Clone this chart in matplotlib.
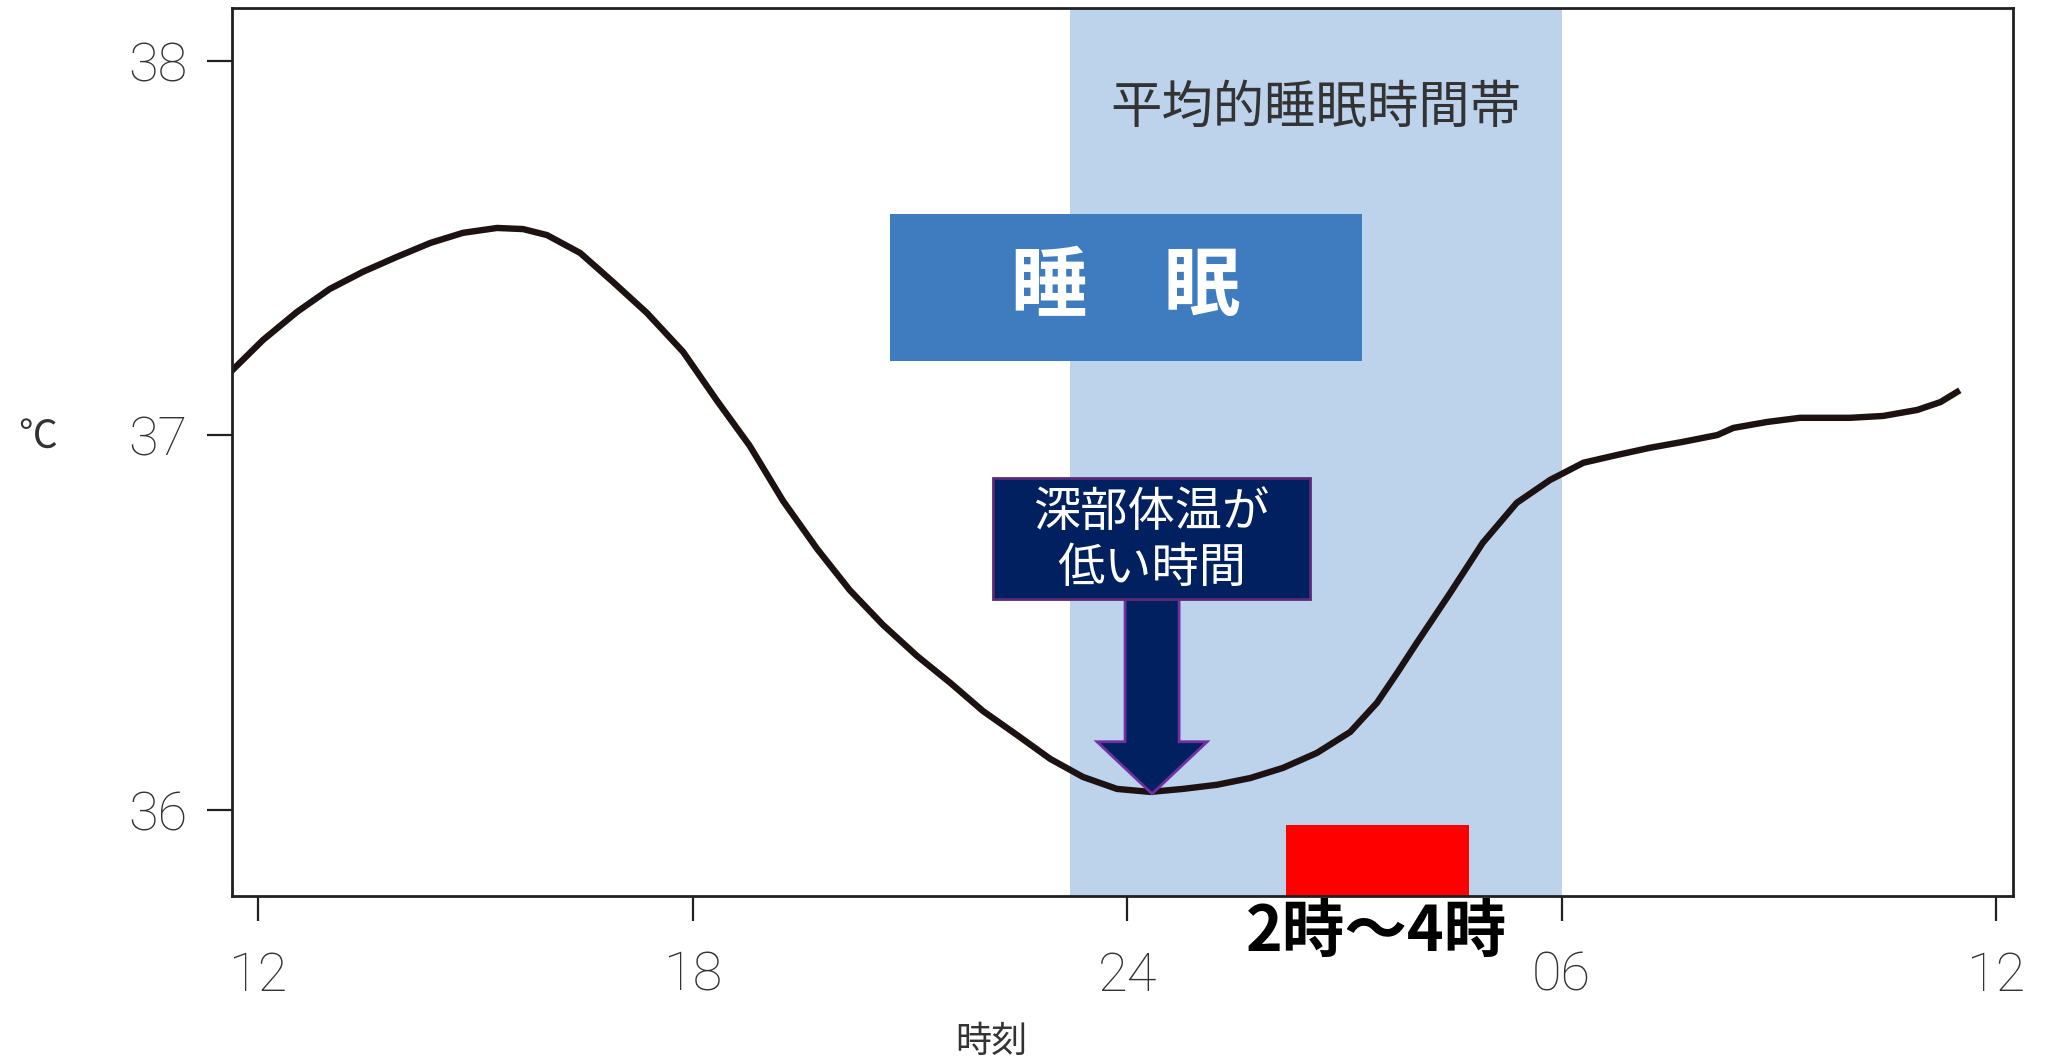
import matplotlib
matplotlib.use('Agg')
import matplotlib.pyplot as plt
from matplotlib.patches import Rectangle

plt.rcParams['font.family'] = ['Noto Sans CJK JP', 'DejaVu Sans']

# core body temperature over a day (hour 12 -> next day 12 = 36)
hours = [11.65, 12.07, 12.54, 12.99, 13.45, 13.92, 14.38, 14.83, 15.30, 15.66,
         15.99, 16.45, 16.90, 17.37, 17.87, 18.34, 18.79, 19.25, 19.72, 20.17,
         20.63, 21.10, 21.56, 22.01, 22.48, 22.94, 23.39, 23.86, 24.32, 24.77,
         25.24, 25.70, 26.15, 26.62, 27.08, 27.45, 27.73, 28.00, 28.46, 28.91,
         29.38, 29.84, 30.30, 30.77, 31.22, 31.68, 32.15, 32.37, 32.84, 33.29,
         33.98, 34.44, 34.91, 35.23, 35.46]
temps = [37.175, 37.255, 37.330, 37.391, 37.437, 37.477, 37.514, 37.541, 37.554, 37.551,
         37.535, 37.487, 37.410, 37.327, 37.223, 37.092, 36.972, 36.825, 36.697, 36.587,
         36.494, 36.411, 36.339, 36.264, 36.200, 36.136, 36.088, 36.056, 36.048, 36.056,
         36.067, 36.085, 36.112, 36.152, 36.208, 36.286, 36.366, 36.446, 36.579, 36.713,
         36.820, 36.881, 36.927, 36.948, 36.967, 36.983, 37.001, 37.020, 37.036, 37.047,
         37.047, 37.052, 37.068, 37.089, 37.116]

xticks = [12, 18, 24, 30, 36]
xtick_labels = ['12', '18', '24', '06', '12']
yticks = [36, 37, 38]
ytick_labels = ['36', '37', '38']

sleep_band = (23.21, 30.0)          # 平均的睡眠時間帯
sleep_box = (20.72, 37.20, 27.25, 37.59)   # x0, y0, x1, y1
low_box = (22.15, 36.563, 26.53, 36.886)
low_window = (26.2, 28.72, 35.96)   # 2時～4時
arrow_x = 24.345
arrow_tip = 36.043

fig = plt.figure(figsize=(20.46, 10.61), dpi=100)
ax = fig.add_axes([0.1134, 0.1555, 0.8705, 0.837])
ax.set_xlim(11.641, 36.233)
ax.set_ylim(35.770, 38.1415)

ax.axvspan(sleep_band[0], sleep_band[1], color='#bdd3ec', lw=0, zorder=1)

ax.add_patch(Rectangle((sleep_box[0], sleep_box[1]), sleep_box[2] - sleep_box[0],
                       sleep_box[3] - sleep_box[1], fc='#3f7bbf', ec='none', zorder=3))
ax.text((sleep_box[0] + sleep_box[2]) / 2, (sleep_box[1] + sleep_box[3]) / 2, '睡　眠',
        color='white', fontsize=55, fontweight='bold', ha='center', va='center', zorder=4)

ax.text(26.61, 37.875, '平均的睡眠時間帯', color='#333333', fontsize=37,
        ha='center', va='center', zorder=4)

ax.plot(hours, temps, color='#1c1212', lw=4.6, zorder=4, solid_joinstyle='round')

ax.arrow(arrow_x, low_box[1], 0, arrow_tip - low_box[1], width=0.746, head_width=1.52,
         head_length=0.139, length_includes_head=True, fc='#002060', ec='#7030a0',
         lw=2, zorder=5)
ax.add_patch(Rectangle((low_box[0], low_box[1]), low_box[2] - low_box[0],
                       low_box[3] - low_box[1], fc='#002060', ec='#5a2a78', lw=2, zorder=6))
ax.text((low_box[0] + low_box[2]) / 2, (low_box[1] + low_box[3]) / 2 - 0.005,
        '深部体温が\n低い時間', color='white', fontsize=34, ha='center', va='center',
        linespacing=1.2, zorder=7)

ax.add_patch(Rectangle((low_window[0], ax.get_ylim()[0]), low_window[1] - low_window[0],
                       low_window[2] - ax.get_ylim()[0], fc='#ff0000', ec='none', zorder=3))
ax.text(27.45, 35.672, '2時～4時', color='black', fontsize=45, fontweight='bold',
        ha='center', va='center', clip_on=False, zorder=7)

ax.set_xticks(xticks)
ax.set_xticklabels(xtick_labels)
ax.set_yticks(yticks)
ax.set_yticklabels(ytick_labels)
ax.tick_params(axis='both', direction='out', length=18, width=1.6, color='#231f20',
               labelsize=39, labelcolor='#333333')
ax.tick_params(axis='x', pad=21)
ax.tick_params(axis='y', pad=14)
for lab in ax.get_xticklabels() + ax.get_yticklabels():
    lab.set_family(['Roboto', 'DejaVu Sans'])
    lab.set_fontweight('light')

for sp in ax.spines.values():
    sp.set_linewidth(2)
    sp.set_color('#231f20')
    sp.set_zorder(8)

fig.text(38 / 2046, 1 - 437 / 1061, '℃', fontsize=28, color='#333333',
         ha='center', va='center')
fig.text(991 / 2046, 1 - 1042 / 1061, '時刻', fontsize=26, color='#333333',
         ha='center', va='center')

fig.savefig('out.png', dpi=100)
